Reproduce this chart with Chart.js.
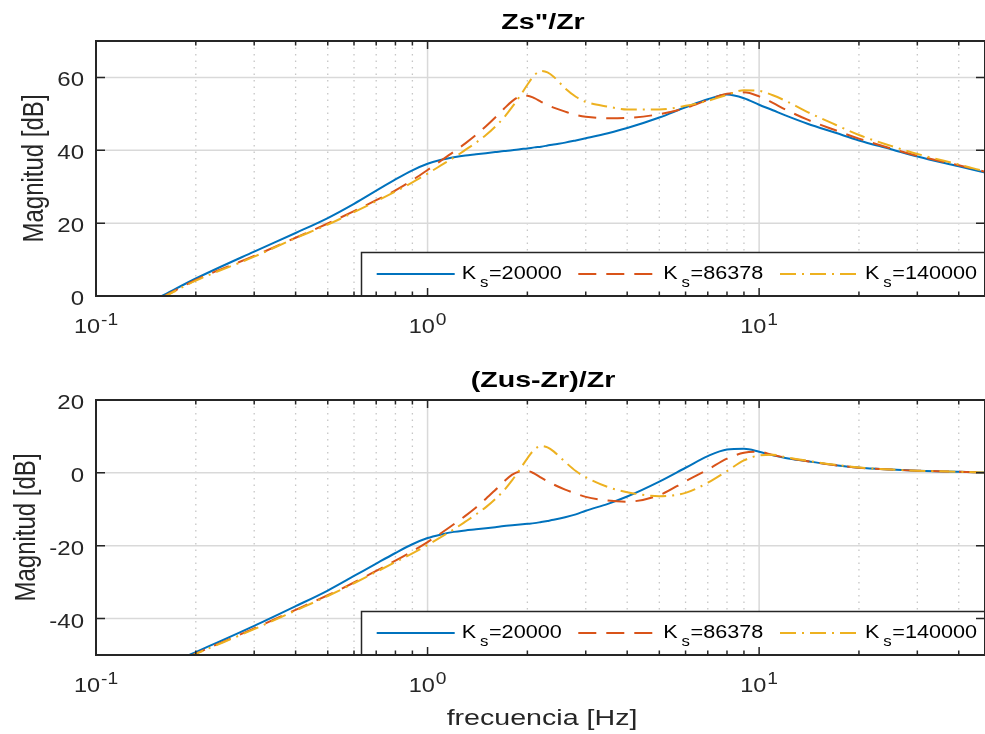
<!DOCTYPE html>
<html>
<head>
<meta charset="utf-8">
<script src="https://cdn.jsdelivr.net/npm/chart.js@4.4.1/dist/chart.umd.min.js"></script>
<style>
body { margin: 0; background: #fff; }
#wrap { position: relative; width: 985px; height: 734px; overflow: hidden; }
canvas { position: absolute; left: 0; }
</style>
</head>
<body>
<div id="wrap">
<canvas id="zsChart" width="985" height="360" style="top:0"></canvas>
<canvas id="zusChart" width="985" height="374" style="top:360px"></canvas>
</div>
<script>
//########## DATA ###########

//spring stiffness of each curve (legend)
var ksValues = [20000, 86378, 140000];

//tick labels
var magTicksTop = [0, 20, 40, 60];
var magTicksBot = [-40, -20, 0, 20];
var decades = [0.1, 1, 10];
var decadeExps = ['-1', '0', '1'];

//Zs''/Zr  (frequency in Hz, magnitude in dB)
var fTop = [0.158, 0.2, 0.3, 0.4, 0.5, 0.6, 0.7, 0.8, 0.9, 1.0,
    1.1, 1.2, 1.3, 1.4, 1.5, 1.6, 1.7, 1.8, 1.9, 2.0,
    2.1, 2.2, 2.3, 2.4, 2.6, 2.8, 3.0, 3.5,
    4, 5, 6, 7, 8, 9, 10, 11, 12, 14, 17, 20, 25, 30, 40, 48];
var zsBlue = [0, 4.8, 12.2, 17.3, 21.4, 25.3, 28.9, 32.0, 34.5, 36.3,
    37.4, 38.1, 38.6, 38.9, 39.2, 39.5, 39.8, 40.0, 40.3, 40.5,
    40.8, 41.0, 41.3, 41.6, 42.1, 42.7, 43.3, 44.7,
    46.1, 49.0, 51.8, 54.0, 55.3, 54.3, 52.5, 51.0, 49.6, 47.3, 44.8, 42.7, 40.3, 38.3, 35.6, 33.9];
var zsOrange = [-0.4, 4.4, 11.0, 16.0, 19.9, 23.3, 26.3, 29.0, 31.8, 34.6,
    37.2, 39.6, 41.9, 44.2, 46.6, 49.0, 51.4, 53.5, 54.8, 55.0,
    54.3, 53.3, 52.4, 51.7, 50.6, 49.7, 49.2, 48.8,
    48.9, 49.9, 51.6, 53.8, 55.5, 55.9, 54.8, 53.0, 51.2, 48.4, 45.5, 43.2, 40.5, 38.5, 35.9, 34.1];
var zsYellow = [-0.5, 4.2, 10.8, 15.9, 19.6, 23.0, 26.0, 28.7, 31.2, 33.6,
    35.9, 38.0, 40.1, 42.1, 44.2, 46.5, 49.0, 51.9, 54.9, 58.0,
    60.6, 61.8, 61.4, 60.2, 57.0, 54.7, 53.3, 52.0,
    51.2, 51.2, 52.2, 53.6, 55.2, 56.5, 56.3, 55.1, 53.6, 50.5, 47.0, 44.2, 41.2, 39.0, 36.1, 34.2];

//(Zus-Zr)/Zr
var fBot = [0.19, 0.2, 0.3, 0.4, 0.5, 0.6, 0.7, 0.8, 0.9, 1.0,
    1.1, 1.2, 1.3, 1.4, 1.5, 1.6, 1.7, 1.8, 1.9, 2.0,
    2.1, 2.2, 2.3, 2.4, 2.6, 2.8, 3.0, 3.5,
    4, 5, 6, 7, 8, 9, 10, 11, 12, 14, 17, 20, 25, 30, 40, 48];
var zusBlue = [-50.1, -49.2, -42.0, -36.6, -32.3, -28.3, -24.9, -22.0, -19.6, -17.9,
    -16.9, -16.2, -15.8, -15.5, -15.2, -14.9, -14.6, -14.4, -14.2, -14.0,
    -13.8, -13.5, -13.2, -12.9, -12.2, -11.4, -10.4, -8.5,
    -6.5, -2.4, 1.4, 4.6, 6.4, 6.6, 5.8, 4.8, 4.1, 3.2, 2.1, 1.4, 0.9, 0.6, 0.3, 0.1];
var zusOrange = [-50.5, -49.6, -42.7, -37.6, -33.6, -30.1, -26.9, -24.1, -21.5, -19.0,
    -16.5, -14.1, -11.8, -9.5, -7.1, -4.7, -2.4, -0.5, 0.4, 0.5,
    -0.2, -1.3, -2.3, -3.2, -4.6, -5.7, -6.6, -7.6,
    -7.9, -6.1, -2.3, 0.9, 3.9, 5.5, 5.8, 4.9, 4.2, 3.2, 2.1, 1.4, 0.9, 0.6, 0.3, 0.1];
var zusYellow = [-50.6, -49.7, -42.9, -37.8, -33.8, -30.3, -27.2, -24.5, -22.1, -19.8,
    -17.6, -15.5, -13.4, -11.4, -9.4, -7.2, -4.8, -2.0, 1.0, 4.0,
    6.4, 7.4, 7.0, 5.9, 3.0, 0.5, -1.2, -3.9,
    -5.3, -6.4, -5.5, -2.7, 0.5, 3.4, 4.8, 5.0, 4.3, 3.3, 2.2, 1.5, 0.9, 0.6, 0.3, 0.1];

//########## STYLE ###########

var FONT = '"Liberation Sans", Arial, Helvetica, sans-serif';
var AX = '#262626';
var seriesColors = ['#0072BD', '#D95319', '#EDB120'];
var seriesDash = [[], [18, 10], [16, 6, 2, 6]];
var legendX = [376.7, 578.3, 780];

//draws text, stretched horizontally like the original figure
function drawText(ctx, str, x, y, size, bold, sx, align, color) {
    ctx.save();
    ctx.font = (bold ? 'bold ' : '') + size + 'px ' + FONT;
    ctx.fillStyle = color;
    ctx.textAlign = 'left';
    ctx.textBaseline = 'alphabetic';
    ctx.translate(x, y);
    ctx.scale(sx, 1);
    var w = ctx.measureText(str).width;
    var dx = align === 'center' ? -w / 2 : (align === 'right' ? -w : 0);
    ctx.fillText(str, dx, 0);
    ctx.restore();
    return w * sx;
}

function textWidth(ctx, str, size, sx) {
    ctx.save();
    ctx.font = size + 'px ' + FONT;
    var w = ctx.measureText(str).width * sx;
    ctx.restore();
    return w;
}

//########## MATLAB-LIKE AXES PLUGIN ###########

var matlabAxes = {
    id: 'matlabAxes',
    beforeDatasetsDraw: function (chart) {
        var ctx = chart.ctx, a = chart.chartArea;
        var xs = chart.scales.x, ys = chart.scales.y;
        ctx.save();
        //vertical grid (solid at decades, dotted elsewhere)
        xs.ticks.forEach(function (t) {
            if (t.value <= 0.1000001) return;
            var px = xs.getPixelForValue(t.value);
            ctx.beginPath();
            if (t.major) {
                ctx.setLineDash([]);
                ctx.strokeStyle = '#d9d9d9';
                ctx.lineWidth = 1.5;
            } else {
                ctx.setLineDash([1.5, 5]);
                ctx.strokeStyle = '#c6c6c6';
                ctx.lineWidth = 1.3;
            }
            ctx.moveTo(px, a.top);
            ctx.lineTo(px, a.bottom);
            ctx.stroke();
        });
        //horizontal grid
        ctx.setLineDash([]);
        ctx.strokeStyle = '#d9d9d9';
        ctx.lineWidth = 1.5;
        ys.ticks.forEach(function (t) {
            var py = ys.getPixelForValue(t.value);
            if (py <= a.top + 1 || py >= a.bottom - 1) return;
            ctx.beginPath();
            ctx.moveTo(a.left, py);
            ctx.lineTo(a.right, py);
            ctx.stroke();
        });
        ctx.restore();
    },
    afterDatasetsDraw: function (chart, args, o) {
        var ctx = chart.ctx, a = chart.chartArea;
        var xs = chart.scales.x, ys = chart.scales.y;
        ctx.save();

        //legend box
        var boxLeft = 361.5, boxTop = a.bottom - 43.5;
        ctx.fillStyle = '#fff';
        ctx.fillRect(boxLeft, boxTop, a.right - boxLeft + 2, a.bottom - boxTop);
        ctx.strokeStyle = AX;
        ctx.lineWidth = 1.5;
        ctx.strokeRect(boxLeft, boxTop, a.right - boxLeft + 2, a.bottom - boxTop);
        var yc = boxTop + 21.5;
        chart.data.datasets.forEach(function (ds, i) {
            var x0 = legendX[i];
            ctx.beginPath();
            ctx.setLineDash(ds.borderDash);
            ctx.strokeStyle = ds.borderColor;
            ctx.lineWidth = 2;
            ctx.moveTo(x0, yc);
            ctx.lineTo(x0 + 78, yc);
            ctx.stroke();
            ctx.setLineDash([]);
            drawText(ctx, 'K', x0 + 85, yc + 4.5, 18, false, 1.2, 'left', '#000');
            drawText(ctx, 's', x0 + 103.3, yc + 13.3, 14, false, 1.2, 'left', '#000');
            drawText(ctx, '=' + ksValues[i], x0 + 112.3, yc + 4.5, 18, false, 1.2, 'left', '#000');
        });

        //axes frame
        ctx.setLineDash([]);
        ctx.strokeStyle = AX;
        ctx.lineWidth = 2;
        ctx.strokeRect(a.left, a.top, a.right - a.left, a.bottom - a.top);

        //tick marks (inside)
        ctx.lineWidth = 1.5;
        xs.ticks.forEach(function (t) {
            var px = xs.getPixelForValue(t.value);
            var len = t.major ? 8 : 4.5;
            ctx.beginPath();
            ctx.moveTo(px, a.bottom);
            ctx.lineTo(px, a.bottom - len);
            ctx.moveTo(px, a.top);
            ctx.lineTo(px, a.top + len);
            ctx.stroke();
        });
        ys.ticks.forEach(function (t) {
            var py = ys.getPixelForValue(t.value);
            ctx.beginPath();
            ctx.moveTo(a.left, py);
            ctx.lineTo(a.left + 9, py);
            ctx.moveTo(a.right, py);
            ctx.lineTo(a.right - 9, py);
            ctx.stroke();
        });

        //y tick labels
        ys.ticks.forEach(function (t) {
            var py = ys.getPixelForValue(t.value);
            drawText(ctx, String(t.value), 84, py + 9, 20, false, 1.2, 'right', AX);
        });

        //x tick labels 10^n
        decades.forEach(function (d, i) {
            var px = xs.getPixelForValue(d);
            var wb = textWidth(ctx, '10', 21, 1.12);
            var we = textWidth(ctx, decadeExps[i], 16, 1.2);
            var x0 = px - (wb + 1 + we) / 2;
            var base = a.bottom + 37;
            drawText(ctx, '10', x0, base, 21, false, 1.12, 'left', AX);
            drawText(ctx, decadeExps[i], x0 + wb + 1, base - 8.5, 16, false, 1.2, 'left', AX);
        });

        //title
        drawText(ctx, o.title, 543, o.titleY, 22, true, 1.3, 'center', '#000');

        //y axis label
        ctx.save();
        ctx.translate(o.yLabelX, (a.top + a.bottom) / 2);
        ctx.rotate(-Math.PI / 2);
        ctx.scale(1, 1.22);
        ctx.font = '24px ' + FONT;
        ctx.fillStyle = AX;
        ctx.textAlign = 'center';
        ctx.textBaseline = 'alphabetic';
        ctx.fillText('Magnitud [dB]', 0, 0);
        ctx.restore();

        //x axis label
        if (o.xLabel) {
            drawText(ctx, o.xLabel, 542, a.bottom + 70, 22, false, 1.3, 'center', AX);
        }
        ctx.restore();
    }
};

//########## CHART BUILDING ###########

function buildDatasets(freq, lists) {
    return lists.map(function (vals, i) {
        return {
            label: 'K_s=' + ksValues[i],
            data: freq.map(function (f, j) { return { x: f, y: vals[j] }; }),
            borderColor: seriesColors[i],
            borderWidth: 2,
            borderDash: seriesDash[i],
            pointRadius: 0,
            fill: false,
            cubicInterpolationMode: 'monotone',
            order: 3 - i
        };
    });
}

function makeChart(canvasId, freq, lists, yMin, yMax, yTicks, cfg) {
    var context = document.getElementById(canvasId).getContext('2d');
    return new Chart(context, {
        type: 'line',
        data: { datasets: buildDatasets(freq, lists) },
        options: {
            responsive: false,
            animation: false,
            devicePixelRatio: 1,
            layout: { padding: { top: cfg.top, left: 0, right: 0, bottom: 0 } },
            plugins: {
                legend: { display: false },
                tooltip: { enabled: false },
                title: { display: false },
                matlabAxes: cfg
            },
            scales: {
                x: {
                    type: 'logarithmic',
                    min: 0.1,
                    max: 48,
                    afterBuildTicks: function (s) {
                        var t = [];
                        decades.forEach(function (d) {
                            for (var m = 1; m <= 9; m++) {
                                var v = d * m;
                                if (v <= 48) t.push({ value: v, major: m === 1 });
                            }
                        });
                        s.ticks = t;
                    },
                    ticks: { display: false },
                    grid: { display: false },
                    border: { display: false },
                    afterFit: function (s) { s.height = cfg.xAxisH; }
                },
                y: {
                    min: yMin,
                    max: yMax,
                    afterBuildTicks: function (s) {
                        s.ticks = yTicks.map(function (v) { return { value: v }; });
                    },
                    ticks: { display: false },
                    grid: { display: false },
                    border: { display: false },
                    afterFit: function (s) { s.width = 96; }
                }
            }
        },
        plugins: [matlabAxes]
    });
}

//top chart
var zsChart = makeChart('zsChart', fTop, [zsBlue, zsOrange, zsYellow], 0, 70, magTicksTop, {
    top: 41, xAxisH: 64, title: 'Zs"/Zr', titleY: 29, yLabelX: 43, xLabel: null
});

//bottom chart
var zusChart = makeChart('zusChart', fBot, [zusBlue, zusOrange, zusYellow], -50, 20, magTicksBot, {
    top: 40, xAxisH: 79, title: '(Zus-Zr)/Zr', titleY: 27, yLabelX: 35, xLabel: 'frecuencia [Hz]'
});
</script>
</body>
</html>
